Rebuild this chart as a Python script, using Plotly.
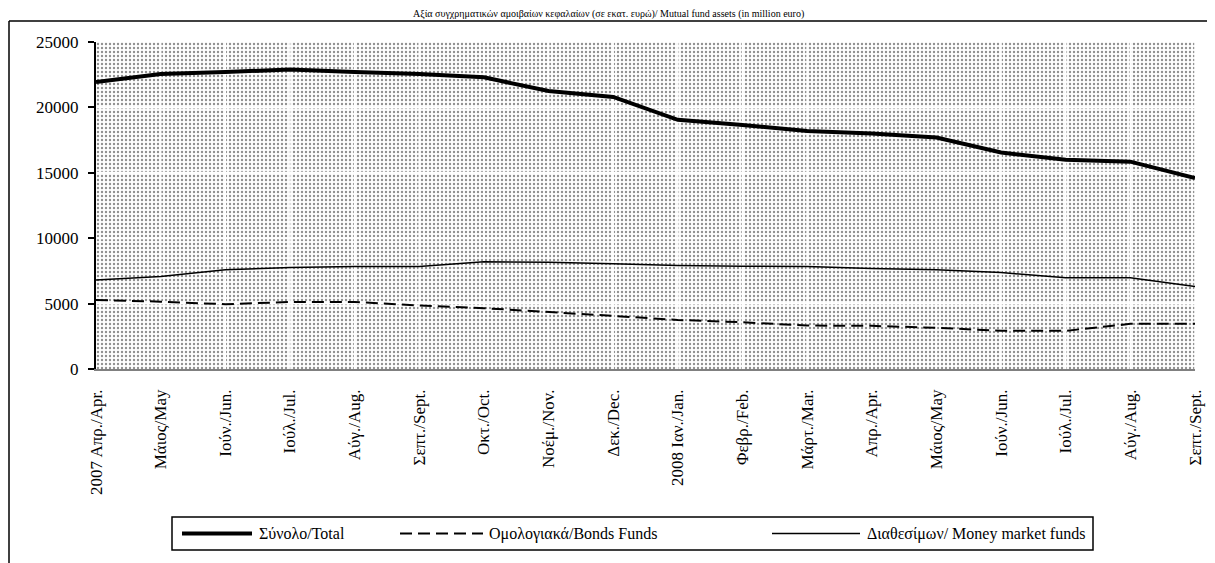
import plotly.graph_objects as go

# x categories (Apr 2007 .. Sept 2008)
months = ["2007 Απρ./Apr.", "Μάιος/May", "Ιούν./Jun.", "Ιούλ./Jul.", "Αύγ./Aug.",
          "Σεπτ./Sept.", "Οκτ./Oct.", "Νοέμ./Nov.", "Δεκ./Dec.", "2008 Ιαν./Jan.",
          "Φεβρ./Feb.", "Μάρτ./Mar.", "Απρ./Apr.", "Μάιος/May", "Ιούν./Jun.",
          "Ιούλ./Jul.", "Αύγ./Aug.", "Σεπτ./Sept."]

total = [21950, 22550, 22700, 22900, 22700, 22550, 22300, 21250, 20800,
         19050, 18650, 18200, 18000, 17700, 16550, 16000, 15850, 14600]
bonds = [5280, 5150, 4950, 5130, 5130, 4850, 4650, 4330, 4060,
         3750, 3570, 3320, 3300, 3150, 2920, 2920, 3450, 3450]
money = [6800, 7070, 7580, 7760, 7830, 7830, 8200, 8170, 8040,
         7910, 7860, 7830, 7680, 7580, 7370, 6970, 6970, 6300]

y_ticks = [0, 5000, 10000, 15000, 20000, 25000]
y_max = 25000

title = "Αξία συγχρηματικών αμοιβαίων κεφαλαίων (σε εκατ. ευρώ)/ Mutual fund assets (in million euro)"
names = ["Σύνολο/Total", "Ομολογιακά/Bonds Funds", "Διαθεσίμων/ Money market funds"]

xs = list(range(len(months)))
x_max = xs[-1]
FONT = "Liberation Serif, Times New Roman, serif"

# the page body adds an 8px offset, margins are shifted to compensate
OFF = 8
W, H = 1215, 563
L, R, T, B = 96 - OFF, 20 + OFF, 42 - OFF, 194 + OFF
PW, PH = W - L - R, H - T - B


def px(x):
    # page pixel -> paper x
    return (x - OFF - L) / PW


def py(y):
    # page pixel -> paper y
    return (H - B - (y - OFF)) / PH


styles = [dict(color="black", width=4),
          dict(color="black", width=2, dash="12px,6px"),
          dict(color="black", width=1.5)]

fig = go.Figure()

# dotted plot background
fig.add_trace(go.Scatter(
    x=[0, x_max, x_max, 0, 0], y=[0, 0, y_max, y_max, 0],
    mode="lines", line=dict(width=0), fill="toself",
    fillcolor="rgba(0,0,0,0)",
    fillpattern=dict(shape=".", size=4, solidity=0.28, fgcolor="#222222", bgcolor="white"),
    showlegend=False, hoverinfo="skip"))

# white grid over the dots
for v in y_ticks[1:-1]:
    fig.add_trace(go.Scatter(x=[0, x_max], y=[v, v], mode="lines",
                             line=dict(color="white", width=2),
                             showlegend=False, hoverinfo="skip"))
for i in xs[1:]:
    fig.add_trace(go.Scatter(x=[i, i], y=[0, y_max], mode="lines",
                             line=dict(color="white", width=1.5),
                             showlegend=False, hoverinfo="skip"))

for name, ys, st in zip(names, [total, bonds, money], styles):
    fig.add_trace(go.Scatter(x=xs, y=ys, mode="lines", name=name, line=st,
                             showlegend=False))

# legend drawn by hand (long line samples like the original)
leg_y = 533.5
leg_items = [(182, 252, 257), (400, 483, 487), (772, 860, 865)]
shapes = [
    dict(type="rect", xref="paper", yref="paper", x0=px(172), x1=px(1093),
         y0=py(517), y1=py(550), line=dict(color="black", width=1.5),
         fillcolor="white"),
    # outer frame (top and left edges are the only ones inside the page)
    dict(type="line", xref="paper", yref="paper", x0=px(9), x1=px(1212),
         y0=py(21), y1=py(21), line=dict(color="black", width=1.5)),
    dict(type="line", xref="paper", yref="paper", x0=px(9), x1=px(9),
         y0=py(21), y1=py(575), line=dict(color="black", width=1.5)),
]
annotations = [dict(text=title, xref="paper", yref="paper", x=px(608), y=py(14),
                    xanchor="center", yanchor="middle", showarrow=False,
                    font=dict(family=FONT, size=10))]
for (a, b, t), name, st in zip(leg_items, names, styles):
    shapes.append(dict(type="line", xref="paper", yref="paper", x0=px(a), x1=px(b),
                       y0=py(leg_y), y1=py(leg_y), line=st))
    annotations.append(dict(text=name, xref="paper", yref="paper", x=px(t), y=py(leg_y),
                            xanchor="left", yanchor="middle", showarrow=False,
                            font=dict(family=FONT, size=16)))

fig.update_layout(
    width=W, height=H,
    margin=dict(l=L, r=R, t=T, b=B),
    paper_bgcolor="white", plot_bgcolor="white",
    font=dict(family=FONT, size=16, color="black"),
    showlegend=False,
    xaxis=dict(range=[0, x_max], tickvals=xs, ticktext=months, tickangle=-90,
               showgrid=False, zeroline=False, showline=True, linecolor="#808080",
               linewidth=1.5, ticks="", ticklabelstandoff=12, automargin=False,
               tickfont=dict(family=FONT, size=17)),
    yaxis=dict(range=[0, y_max], tickvals=y_ticks, tickformat="d", showgrid=False,
               zeroline=False, showline=True, linecolor="black", linewidth=2,
               ticks="outside", ticklen=6, tickwidth=2, tickcolor="black",
               ticklabelstandoff=6, automargin=False,
               tickfont=dict(family=FONT, size=17)),
    annotations=annotations,
    shapes=shapes,
)

fig.write_html("out.html")
